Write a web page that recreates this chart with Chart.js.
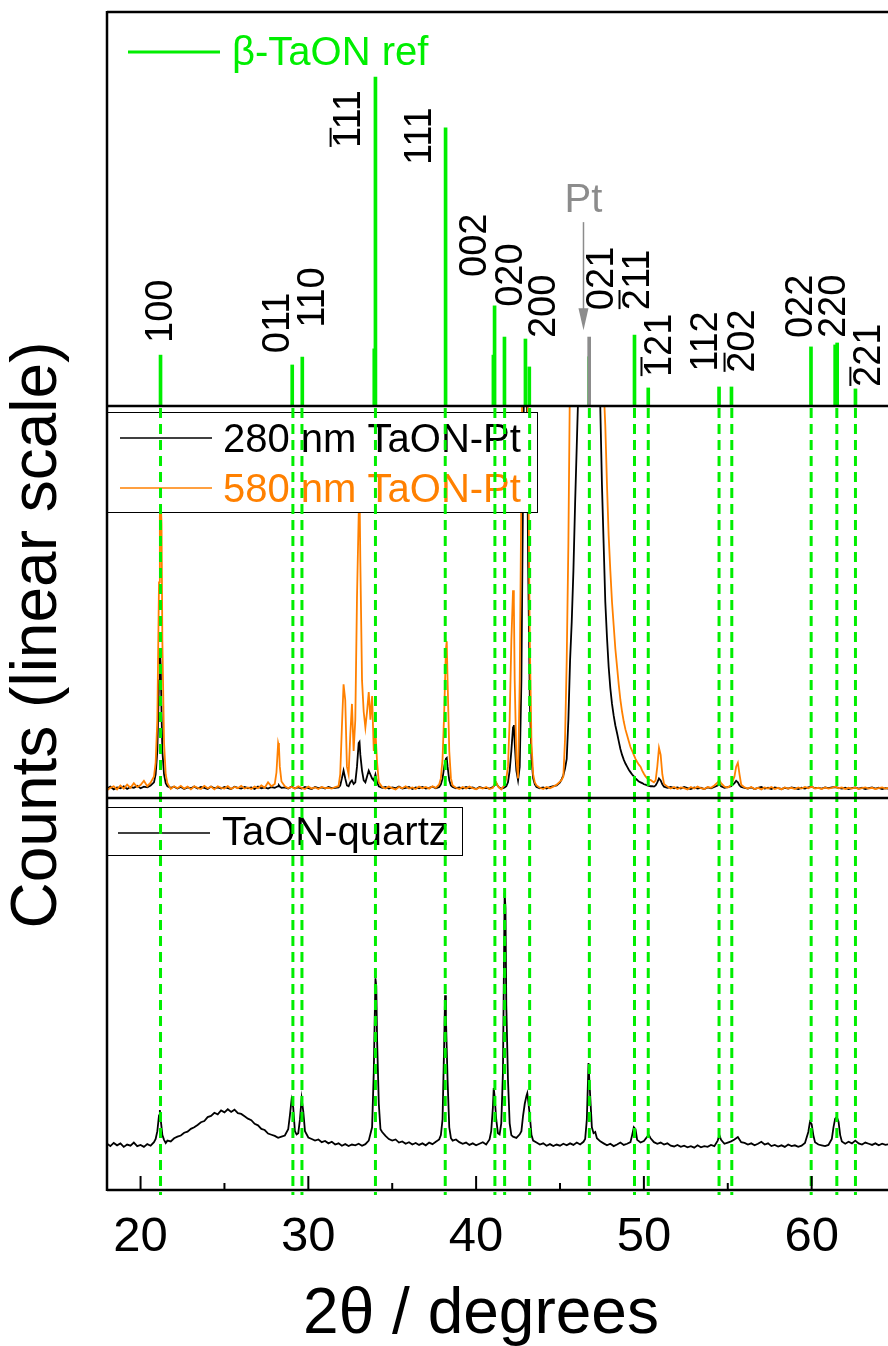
<!DOCTYPE html>
<html>
<head>
<meta charset="utf-8">
<script src="https://cdn.jsdelivr.net/npm/chart.js@4"></script>
<style>
  html, body { margin: 0; padding: 0; background: #fff; }
  canvas { display: block; }
</style>
</head>
<body>
<canvas id="xrd" width="888" height="1346"></canvas>
<script>
// beta-TaON reference pattern (2theta, relative intensity)
const refSticks = [
  [21.19, 15.5], [29.04, 12.5], [29.64, 14.9], [33.93, 17.4], [34.0, 100.2],
  [38.18, 84.7], [41.03, 15.5], [41.1, 30.5], [41.69, 21.0], [42.94, 20.4],
  [43.17, 11.9], [46.74, 15.0], [49.44, 21.6], [50.26, 5.5], [54.48, 5.8],
  [55.22, 5.8], [59.96, 18.0], [61.4, 18.6], [61.52, 19.2], [62.61, 5.2]
]
const ptStick = [[46.74, 21.0]]

// dashed guide positions (2theta)
const refAngles = [21.19, 29.08, 29.62, 34.0, 38.16, 41.12, 41.7, 43.19, 46.75, 49.44, 50.26, 54.48, 55.24, 59.97, 61.5, 62.61]

// hkl labels
const hklText = ['100', '011', '110', '111', '111', '002', '020', '200', '021', '211', '121', '112', '202', '022', '220', '221']
const hklBar = [false, false, false, true, false, false, false, false, false, true, true, false, true, false, false, true]
const hklAngle = [21.25, 28.22, 30.31, 32.46, 36.69, 39.96, 42.11, 44.08, 47.53, 49.68, 50.99, 53.73, 55.94, 59.39, 61.36, 63.44]
const hklBase = [19.2, 16.1, 23.8, 78.6, 73.4, 39.3, 30.2, 20.7, 29.2, 29.2, 8.8, 10.4, 10.1, 20.7, 20.7, 5.8]

// 280 nm TaON-Pt
const scan280 = [
  [18.0,2.4],[18.2,2.9],[18.4,2.2],[18.6,2.7],[18.8,2.5],[19.0,3.0],[19.2,2.3],[19.4,2.8],[19.6,2.6],[19.8,3.1],
  [20.0,2.5],[20.2,2.9],[20.4,2.7],[20.6,3.2],[20.8,4.0],[20.9,6.0],[21.0,12],[21.1,30],[21.15,38],[21.2,34],
  [21.25,22],[21.3,12],[21.4,6],[21.5,3.8],[21.6,3.0],[21.8,2.6],[22.0,2.9],[22.2,2.4],[22.4,2.8],[22.6,2.3],
  [22.8,2.7],[23.0,2.5],[23.2,2.9],[23.4,2.4],[23.6,2.8],[23.8,2.6],[24.0,2.3],[24.2,2.9],[24.4,2.5],[24.6,2.7],
  [24.8,2.4],[25.0,2.8],[25.2,2.5],[25.4,2.3],[25.6,2.9],[25.8,2.6],[26.0,2.4],[26.2,2.8],[26.4,2.5],[26.6,2.7],
  [26.8,2.3],[27.0,2.9],[27.2,2.5],[27.4,2.7],[27.6,2.4],[27.8,2.8],[28.0,2.6],[28.1,2.8],[28.2,3.0],[28.25,3.2],
  [28.3,2.9],[28.4,2.6],[28.6,2.7],[28.8,2.4],[29.0,2.9],[29.2,2.5],[29.4,2.7],[29.6,2.4],[29.8,2.8],[30.0,2.5],
  [30.2,2.3],[30.4,2.8],[30.6,2.5],[30.8,2.7],[31.0,2.4],[31.2,2.8],[31.4,2.5],[31.6,2.6],[31.8,2.7],[31.9,3.2],
  [32.0,5.0],[32.1,7.0],[32.2,5.0],[32.3,3.2],[32.4,3.0],[32.5,4.0],[32.6,4.5],[32.7,3.6],[32.8,4.0],[32.9,8.0],
  [33.0,14],[33.05,14.3],[33.1,11],[33.2,7],[33.3,4.5],[33.4,4.0],[33.5,5.5],[33.6,7],[33.7,6],[33.8,5],
  [33.9,4.5],[34.0,6],[34.1,4],[34.2,3.0],[34.4,2.6],[34.6,2.8],[34.8,2.4],[35.0,2.7],[35.2,2.5],[35.4,2.9],
  [35.6,2.4],[35.8,2.6],[36.0,2.8],[36.2,2.3],[36.4,2.7],[36.6,2.5],[36.8,2.8],[37.0,2.4],[37.2,2.6],[37.4,2.9],
  [37.6,2.5],[37.8,2.8],[37.9,3.5],[38.0,5],[38.1,8],[38.2,10],[38.25,10.2],[38.3,8],[38.4,4.5],[38.5,3.2],
  [38.6,2.8],[38.8,2.5],[39.0,2.7],[39.2,2.4],[39.4,2.8],[39.6,2.5],[39.8,2.7],[40.0,2.3],[40.2,2.8],[40.4,2.5],
  [40.6,2.6],[40.8,2.4],[41.0,2.8],[41.1,3.2],[41.2,3.8],[41.3,3.0],[41.4,2.6],[41.5,2.4],[41.6,2.5],[41.7,2.7],
  [41.8,3.0],[41.9,4],[42.0,7],[42.1,12],[42.2,18],[42.25,18.6],[42.3,14],[42.4,7],[42.5,4.5],[42.6,8],
  [42.7,30],[42.8,80],[42.9,130],[43.0,120],[43.1,60],[43.2,25],[43.3,10],[43.4,5],[43.5,3.5],[43.6,2.8],
  [43.8,2.5],[44.0,2.7],[44.2,2.4],[44.4,2.8],[44.6,3.0],[44.8,3.2],[45.0,4.0],[45.1,4.8],[45.2,5.8],[45.3,7.5],
  [45.4,10],[45.5,20],[45.6,35],[45.7,45],[45.8,58],[45.9,75],[46.0,90],[46.1,105],[46.3,200],[46.76,400],
  [47.2,200],[47.3,130],[47.4,100],[47.5,80],[47.6,65],[47.7,50],[47.8,41],[47.9,33.5],[48.0,28],[48.1,24],
  [48.2,21],[48.3,18.5],[48.4,16.6],[48.5,14.5],[48.6,12.5],[48.7,11],[48.8,9.8],[48.9,8.8],[49.0,8],[49.1,7.2],
  [49.2,6.6],[49.3,6.0],[49.4,5.5],[49.5,5.0],[49.6,4.6],[49.7,4.2],[49.8,4.0],[49.9,3.8],[50.0,3.5],[50.1,3.4],
  [50.2,3.2],[50.3,3.1],[50.4,3.0],[50.5,3.0],[50.6,2.9],[50.7,3.2],[50.8,4.0],[50.9,5.0],[51.0,4.5],[51.1,3.5],
  [51.2,2.9],[51.4,2.6],[51.6,2.8],[51.8,2.5],[52.0,2.7],[52.2,2.4],[52.4,2.8],[52.6,2.5],[52.8,2.3],[53.0,2.7],
  [53.2,2.4],[53.4,2.6],[53.6,2.3],[53.8,2.7],[54.0,2.5],[54.2,2.8],[54.4,3.2],[54.5,3.6],[54.6,3.0],[54.8,2.6],
  [55.0,2.8],[55.2,3.0],[55.4,3.8],[55.5,4.4],[55.6,4.0],[55.7,3.2],[55.8,2.8],[56.0,2.6],[56.2,2.4],[56.4,2.7],
  [56.6,2.3],[56.8,2.6],[57.0,2.8],[57.2,2.4],[57.4,2.6],[57.6,2.3],[57.8,2.7],[58.0,2.5],[58.2,2.3],[58.4,2.6],
  [58.6,2.4],[58.8,2.7],[59.0,2.5],[59.2,2.3],[59.4,2.6],[59.6,2.4],[59.8,2.7],[60.0,2.9],[60.2,2.5],[60.4,2.6],
  [60.6,2.4],[60.8,2.7],[61.0,2.5],[61.2,2.7],[61.4,2.8],[61.6,2.6],[61.8,2.4],[62.0,2.6],[62.2,2.3],[62.4,2.5],
  [62.6,2.7],[62.8,2.4],[63.0,2.6],[63.2,2.3],[63.4,2.5],[63.6,2.7],[63.8,2.4],[64.0,2.6],[64.2,2.3],[64.4,2.5],
  [64.6,2.4]
]

// 580 nm TaON-Pt
const scan580 = [
  [18.0,2.0],[18.2,2.6],[18.4,3.0],[18.6,2.2],[18.8,3.2],[19.0,2.4],[19.2,3.4],[19.4,2.6],[19.6,3.8],[19.8,2.8],
  [20.0,3.3],[20.2,4.4],[20.4,3.0],[20.6,3.9],[20.8,5.5],[20.9,9.0],[21.0,20],[21.1,55],[21.15,72],[21.2,76],
  [21.25,70],[21.3,40],[21.4,14],[21.5,6],[21.6,3.8],[21.8,2.3],[22.0,3.0],[22.2,2.5],[22.4,3.1],[22.6,2.4],
  [22.8,2.9],[23.0,2.2],[23.2,3.0],[23.4,2.6],[23.6,2.3],[23.8,3.1],[24.0,2.5],[24.2,2.9],[24.4,2.2],[24.6,3.0],
  [24.8,2.6],[25.0,2.4],[25.2,3.0],[25.4,2.3],[25.6,2.8],[25.8,2.5],[26.0,3.1],[26.2,2.4],[26.4,2.7],[26.6,2.3],
  [26.8,2.9],[27.0,2.5],[27.2,3.2],[27.4,2.6],[27.6,4.0],[27.8,3.0],[28.0,3.6],[28.1,6.5],[28.2,14],[28.25,13],
  [28.3,8],[28.4,4.2],[28.6,3.0],[28.8,2.5],[29.0,2.8],[29.2,2.4],[29.4,3.0],[29.6,2.6],[29.8,2.3],[30.0,2.9],
  [30.2,2.4],[30.4,2.7],[30.6,2.3],[30.8,2.8],[31.0,2.5],[31.2,2.6],[31.4,2.4],[31.6,2.8],[31.8,3.0],[31.9,6],
  [32.0,18],[32.1,29],[32.2,25],[32.3,8],[32.4,6],[32.5,16],[32.6,24],[32.7,12],[32.8,20],[32.9,51],
  [33.0,72],[33.05,80],[33.1,60],[33.2,30],[33.3,22],[33.4,18],[33.5,22],[33.6,27],[33.7,20],[33.8,26],
  [33.9,12],[34.0,17],[34.1,9],[34.2,4],[34.4,2.8],[34.6,2.4],[34.8,2.9],[35.0,2.5],[35.2,2.2],[35.4,2.8],
  [35.6,2.5],[35.8,3.0],[36.0,2.4],[36.2,2.7],[36.4,2.3],[36.6,2.9],[36.8,2.5],[37.0,2.8],[37.2,2.4],[37.4,3.0],
  [37.6,2.6],[37.8,3.5],[37.9,5],[38.0,10],[38.1,22],[38.2,38],[38.25,40],[38.3,30],[38.4,12],[38.5,5],
  [38.6,3.2],[38.8,2.6],[39.0,2.3],[39.2,2.8],[39.4,2.4],[39.6,2.9],[39.8,2.5],[40.0,2.2],[40.2,2.7],[40.4,2.4],
  [40.6,2.8],[40.8,2.3],[41.0,2.6],[41.1,3.5],[41.2,4.0],[41.3,3.0],[41.4,2.5],[41.5,2.2],[41.6,2.8],[41.7,3.4],
  [41.8,5],[41.9,8],[42.0,20],[42.1,40],[42.2,53],[42.25,50],[42.3,30],[42.4,10],[42.5,5],[42.6,30],
  [42.7,80],[42.8,130],[42.9,150],[43.0,140],[43.1,90],[43.2,40],[43.3,14],[43.4,6],[43.5,4],[43.6,3.2],
  [43.8,2.6],[44.0,2.3],[44.2,2.8],[44.4,2.5],[44.6,2.9],[44.8,3.4],[45.0,4.2],[45.1,4.6],[45.2,5.5],[45.3,15],
  [45.4,35],[45.5,65],[45.6,110],[45.7,150],[45.8,200],[45.9,250],[46.0,300],[46.1,350],[46.3,450],[46.76,600],
  [47.2,300],[47.3,180],[47.4,130],[47.5,115],[47.6,105],[47.7,95],[47.8,80],[47.9,67],[48.0,58],[48.1,50],
  [48.2,44],[48.3,38],[48.4,33.5],[48.5,29],[48.6,25],[48.7,22],[48.8,19.5],[48.9,17.5],[49.0,16],[49.1,14.5],
  [49.2,13],[49.3,12],[49.4,11],[49.5,10],[49.6,9.2],[49.7,8.5],[49.8,8],[49.9,7],[50.0,6.2],[50.1,5.5],
  [50.2,5.0],[50.3,4.6],[50.4,4.6],[50.5,4.3],[50.6,4.0],[50.7,4.5],[50.8,8],[50.9,12.8],[51.0,11],[51.1,6],
  [51.2,3.6],[51.4,2.9],[51.6,2.4],[51.8,2.8],[52.0,2.3],[52.2,2.7],[52.4,2.5],[52.6,2.2],[52.8,2.8],[53.0,2.4],
  [53.2,2.9],[53.4,2.5],[53.6,2.3],[53.8,2.8],[54.0,2.6],[54.2,3.2],[54.4,4.0],[54.5,4.6],[54.6,3.8],[54.8,2.9],
  [55.0,2.7],[55.2,3.3],[55.4,5.5],[55.5,8.0],[55.6,9.0],[55.7,6.0],[55.8,3.4],[56.0,2.7],[56.2,2.4],[56.4,2.8],
  [56.6,2.3],[56.8,2.6],[57.0,2.2],[57.2,2.7],[57.4,2.4],[57.6,2.8],[57.8,2.3],[58.0,2.6],[58.2,2.2],[58.4,2.7],
  [58.6,2.4],[58.8,2.6],[59.0,2.3],[59.2,2.7],[59.4,2.4],[59.6,2.8],[59.8,2.5],[60.0,2.9],[60.2,2.4],[60.4,2.6],
  [60.6,2.3],[60.8,2.7],[61.0,2.4],[61.2,2.6],[61.4,2.9],[61.6,2.5],[61.8,2.7],[62.0,2.3],[62.2,2.6],[62.4,2.4],
  [62.6,2.7],[62.8,2.3],[63.0,2.5],[63.2,2.7],[63.4,2.4],[63.6,2.6],[63.8,2.3],[64.0,2.5],[64.2,2.7],[64.4,2.4],
  [64.6,2.6]
]

// TaON on quartz
const scanQuartz = [
  [18.0,11.8],[18.2,11.2],[18.4,12.0],[18.6,11.4],[18.8,11.9],[19.0,11.0],[19.2,11.6],[19.4,11.3],[19.6,12.1],[19.8,11.2],
  [20.0,11.5],[20.2,11.0],[20.4,11.7],[20.6,11.3],[20.8,12.2],[20.9,13],[21.0,15],[21.1,19],[21.15,20.4],[21.2,18],
  [21.3,14],[21.4,12.8],[21.5,12.0],[21.6,12.6],[21.8,12.4],[22.0,13.2],[22.2,13.6],[22.4,13.9],[22.6,14.6],[22.8,14.9],
  [23.0,15.6],[23.2,16.0],[23.4,16.6],[23.6,17.3],[23.8,17.6],[24.0,18.6],[24.2,18.9],[24.4,19.7],[24.6,19.3],[24.8,20.3],
  [25.0,19.8],[25.2,20.6],[25.4,19.9],[25.6,20.5],[25.8,19.6],[26.0,19.4],[26.2,18.8],[26.4,18.2],[26.6,17.8],[26.8,16.9],
  [27.0,16.5],[27.2,15.6],[27.4,15.3],[27.6,14.4],[27.8,14.1],[28.0,13.8],[28.2,13.3],[28.4,13.6],[28.6,13.9],[28.8,15.5],
  [28.9,19],[29.0,23],[29.1,21],[29.2,15],[29.3,14.2],[29.4,14.5],[29.5,18],[29.6,23.3],[29.7,20],[29.8,15],
  [30.0,13.4],[30.2,13.0],[30.4,12.6],[30.6,12.9],[30.8,12.2],[31.0,12.5],[31.2,11.9],[31.4,12.3],[31.6,11.6],[31.8,11.9],
  [32.0,11.3],[32.2,11.7],[32.4,11.2],[32.6,11.6],[32.8,11.4],[33.0,11.8],[33.2,11.3],[33.4,11.7],[33.6,12.6],[33.8,16],
  [33.9,30],[34.0,54],[34.05,52],[34.1,38],[34.2,22],[34.3,15.5],[34.4,14.8],[34.6,13.8],[34.8,13.0],[35.0,12.6],
  [35.2,12.9],[35.4,12.1],[35.6,12.4],[35.8,11.8],[36.0,12.2],[36.2,11.6],[36.4,12.0],[36.6,11.5],[36.8,11.9],[37.0,11.4],
  [37.2,12.1],[37.4,11.7],[37.6,12.3],[37.8,12.9],[37.9,14],[38.0,18],[38.1,38],[38.15,49.7],[38.2,44],[38.3,28],
  [38.4,16],[38.5,13.2],[38.6,12.6],[38.8,12.9],[39.0,12.2],[39.2,11.8],[39.4,12.1],[39.6,11.5],[39.8,11.9],[40.0,11.4],
  [40.2,11.8],[40.4,12.2],[40.6,11.6],[40.8,12.9],[40.9,15],[41.0,21],[41.05,26],[41.1,24],[41.2,18],[41.3,14.5],
  [41.4,14.2],[41.5,17],[41.6,30],[41.7,75.8],[41.75,72],[41.8,47],[41.9,28],[42.0,17],[42.1,14],[42.2,13.6],
  [42.4,13.3],[42.6,14.2],[42.7,15],[42.8,19],[42.9,22],[43.0,24],[43.05,24.7],[43.1,23],[43.2,19],[43.3,14],
  [43.4,12.6],[43.6,12.1],[43.8,11.6],[44.0,11.9],[44.2,11.3],[44.4,11.7],[44.6,11.2],[44.8,11.6],[45.0,11.3],[45.2,11.8],
  [45.4,11.4],[45.6,11.9],[45.8,11.5],[46.0,12.1],[46.2,11.6],[46.4,12.3],[46.5,13],[46.6,18],[46.7,32.4],[46.75,28],
  [46.8,24],[46.9,16],[47.0,14.5],[47.1,14.8],[47.2,13.2],[47.4,12.4],[47.6,11.9],[47.8,11.4],[48.0,11.8],[48.2,11.2],
  [48.4,11.6],[48.6,12.1],[48.8,11.5],[49.0,11.8],[49.2,12.2],[49.3,14],[49.4,16],[49.5,15.5],[49.6,12.8],[49.8,12.1],
  [50.0,12.5],[50.2,13.6],[50.3,14],[50.4,13.2],[50.6,12.2],[50.8,11.8],[51.0,12.1],[51.2,11.6],[51.4,11.9],[51.6,11.3],
  [51.8,11.1],[52.0,11.5],[52.2,11.0],[52.4,11.3],[52.6,10.9],[52.8,11.2],[53.0,10.8],[53.2,11.4],[53.4,10.9],[53.6,11.2],
  [53.8,11.0],[54.0,11.5],[54.2,11.2],[54.4,12.6],[54.5,14],[54.6,12.8],[54.8,11.8],[55.0,12.1],[55.2,12.4],[55.4,12.9],
  [55.6,13.5],[55.8,12.2],[56.0,12.0],[56.2,11.6],[56.4,11.9],[56.6,11.4],[56.8,11.8],[57.0,12.3],[57.2,11.6],[57.4,11.9],
  [57.6,11.2],[57.8,11.5],[58.0,11.1],[58.2,11.4],[58.4,11.0],[58.6,11.6],[58.8,11.2],[59.0,11.4],[59.2,11.0],[59.4,11.3],
  [59.6,12.0],[59.8,14.8],[59.9,17.4],[60.0,16.8],[60.1,14],[60.2,12.2],[60.4,11.6],[60.6,11.4],[60.8,11.2],[61.0,11.5],
  [61.2,13],[61.3,16],[61.4,18.2],[61.5,18.6],[61.6,17.5],[61.7,14],[61.8,12.4],[62.0,11.8],[62.2,12.3],[62.4,11.9],
  [62.6,12.6],[62.8,11.9],[63.0,11.6],[63.2,12.1],[63.4,11.8],[63.6,11.5],[63.8,11.9],[64.0,11.4],[64.2,11.8],[64.4,11.5],
  [64.6,11.7]
]

const xTickLabels = [20, 30, 40, 50, 60]

const FONT = '"Liberation Sans", Arial, sans-serif'
const GREEN = '#00ee00'
const ORANGE = '#ff8000'
const GREY = '#8c8c8c'

// bars need {x, y} objects, arrays would be read as floating bars
const toPoints = rows => rows.map(([x, y]) => ({ x, y }))

// keep each dataset inside its own panel
const panelClip = {
  id: 'panelClip',
  beforeDatasetDraw(chart, args) {
    const ys = chart.scales[args.meta.yAxisID]
    const ctx = chart.ctx
    ctx.save()
    ctx.beginPath()
    ctx.rect(chart.chartArea.left, ys.top, chart.chartArea.width, ys.bottom - ys.top)
    ctx.clip()
  },
  afterDatasetDraw(chart) {
    chart.ctx.restore()
  }
}

const decorations = {
  id: 'decorations',
  afterDatasetsDraw(chart) {
    const ctx = chart.ctx
    const area = chart.chartArea
    const x = chart.scales.x
    const yTop = chart.scales.yTop
    const yMid = chart.scales.yMid
    const yBot = chart.scales.yBot
    ctx.save()

    // legend boxes
    ctx.fillStyle = '#fff'
    ctx.strokeStyle = '#000'
    ctx.lineWidth = 1
    ctx.fillRect(area.left, yMid.top + 6, 430, 100)
    ctx.strokeRect(area.left + 0.5, yMid.top + 6.5, 430, 100)
    ctx.fillRect(area.left, yBot.top + 9, 355, 48)
    ctx.strokeRect(area.left + 0.5, yBot.top + 9.5, 355, 48)

    ctx.font = '40px ' + FONT
    ctx.textAlign = 'left'
    ctx.textBaseline = 'alphabetic'
    const legendLine = (x0, y0, color, w) => {
      ctx.strokeStyle = color
      ctx.lineWidth = w
      ctx.beginPath()
      ctx.moveTo(x0, y0)
      ctx.lineTo(x0 + 92, y0)
      ctx.stroke()
    }
    legendLine(area.left + 13, yMid.top + 32, '#000', 1.5)
    ctx.fillStyle = '#000'
    ctx.fillText('280 nm TaON-Pt', area.left + 116, yMid.top + 46)
    legendLine(area.left + 13, yMid.top + 82, ORANGE, 1.5)
    ctx.fillStyle = ORANGE
    ctx.fillText('580 nm TaON-Pt', area.left + 116, yMid.top + 96)
    legendLine(area.left + 11, yBot.top + 35, '#000', 1.5)
    ctx.fillStyle = '#000'
    ctx.fillText('TaON-quartz', area.left + 115, yBot.top + 47)
    legendLine(area.left + 21, yTop.top + 40, GREEN, 3)
    ctx.fillStyle = GREEN
    ctx.fillText('\u03b2-TaON ref', area.left + 125, yTop.top + 53)

    // dashed guides through the two lower panels
    ctx.strokeStyle = GREEN
    ctx.lineWidth = 3
    ctx.setLineDash([10, 6])
    refAngles.forEach(a => {
      const px = x.getPixelForValue(a)
      ctx.beginPath()
      ctx.moveTo(px, yMid.top + 2)
      ctx.lineTo(px, area.bottom + 5)
      ctx.stroke()
    })
    ctx.setLineDash([])

    // frames
    ctx.strokeStyle = '#000'
    ctx.lineWidth = 2.5
    ;[yTop.top, yTop.bottom, yMid.bottom, yBot.bottom].forEach(py => {
      ctx.beginPath()
      ctx.moveTo(area.left, py)
      ctx.lineTo(area.right, py)
      ctx.stroke()
    })
    ctx.beginPath()
    ctx.moveTo(area.left, yTop.top - 1)
    ctx.lineTo(area.left, yBot.bottom + 1)
    ctx.stroke()

    // inward ticks on the bottom axis
    ctx.lineWidth = 2
    for (let v = 20; v <= 60; v += 5) {
      const px = x.getPixelForValue(v)
      ctx.beginPath()
      ctx.moveTo(px, area.bottom)
      ctx.lineTo(px, area.bottom - (v % 10 === 0 ? 14 : 7))
      ctx.stroke()
    }

    // hkl labels, rotated
    ctx.fillStyle = '#000'
    ctx.strokeStyle = '#000'
    ctx.font = '38px ' + FONT
    ctx.textBaseline = 'middle'
    ctx.textAlign = 'left'
    hklText.forEach((t, i) => {
      const px = x.getPixelForValue(hklAngle[i])
      const py = yTop.getPixelForValue(hklBase[i])
      ctx.save()
      ctx.translate(px, py)
      ctx.rotate(-Math.PI / 2)
      ctx.fillText(t, 0, 0)
      if (hklBar[i]) {
        const w = ctx.measureText(t[0]).width
        ctx.lineWidth = 2
        ctx.beginPath()
        ctx.moveTo(1, -19)
        ctx.lineTo(w - 1, -19)
        ctx.stroke()
      }
      ctx.restore()
    })

    // Pt marker
    const ax = x.getPixelForValue(46.4)
    ctx.fillStyle = GREY
    ctx.strokeStyle = GREY
    ctx.font = '40px ' + FONT
    ctx.textAlign = 'center'
    ctx.textBaseline = 'alphabetic'
    ctx.fillText('Pt', ax, yTop.getPixelForValue(59.1))
    const tipY = yTop.getPixelForValue(23.1)
    ctx.lineWidth = 1.5
    ctx.beginPath()
    ctx.moveTo(ax, yTop.getPixelForValue(56))
    ctx.lineTo(ax, tipY - 12)
    ctx.stroke()
    ctx.beginPath()
    ctx.moveTo(ax - 5, tipY - 22)
    ctx.lineTo(ax + 5, tipY - 22)
    ctx.lineTo(ax, tipY)
    ctx.closePath()
    ctx.fill()

    // axis titles
    ctx.fillStyle = '#000'
    ctx.font = '64px ' + FONT
    ctx.textAlign = 'center'
    ctx.textBaseline = 'alphabetic'
    ctx.fillText('2\u03b8 / degrees', area.left + 374, area.bottom + 143)
    ctx.save()
    ctx.translate(38, 635)
    ctx.rotate(-Math.PI / 2)
    ctx.textBaseline = 'middle'
    ctx.fillText('Counts (linear scale)', 0, 0)
    ctx.restore()

    ctx.restore()
  }
}

new Chart(document.getElementById('xrd'), {
  type: 'line',
  data: {
    datasets: [
      { type: 'bar', data: toPoints(ptStick), yAxisID: 'yTop', backgroundColor: GREY, barThickness: 3, grouped: false, order: 0 },
      { type: 'bar', data: toPoints(refSticks), yAxisID: 'yTop', backgroundColor: GREEN, barThickness: 3, grouped: false, order: 1 },
      { label: '580 nm TaON-Pt', data: scan580, yAxisID: 'yMid', borderColor: ORANGE, borderWidth: 1.8, pointRadius: 0, order: 2 },
      { label: '280 nm TaON-Pt', data: scan280, yAxisID: 'yMid', borderColor: '#000', borderWidth: 1.8, pointRadius: 0, order: 3 },
      { label: 'TaON-quartz', data: scanQuartz, yAxisID: 'yBot', borderColor: '#000', borderWidth: 1.8, pointRadius: 0, order: 4 }
    ]
  },
  options: {
    responsive: false,
    animation: false,
    devicePixelRatio: 1,
    layout: { padding: { left: 107, top: 12, right: 0, bottom: 0 } },
    plugins: { legend: { display: false }, tooltip: { enabled: false } },
    scales: {
      x: {
        type: 'linear',
        min: 18,
        max: 64.55,
        offset: false,
        grid: { display: false },
        border: { display: false },
        afterFit: scale => { scale.height = 156 },
        afterBuildTicks: scale => { scale.ticks = xTickLabels.map(v => ({ value: v })) },
        ticks: {
          autoSkip: false,
          maxRotation: 0,
          padding: 10,
          color: '#000',
          font: { family: FONT, size: 49 }
        }
      },
      // stacked panels are placed in reverse order: last one ends up on top
      yBot: { type: 'linear', display: false, min: 0, max: 100, stack: 'panels', stackWeight: 392 },
      yMid: { type: 'linear', display: false, min: 0, max: 100, stack: 'panels', stackWeight: 392 },
      yTop: { type: 'linear', display: false, min: 0, max: 120, stack: 'panels', stackWeight: 394 }
    }
  },
  plugins: [panelClip, decorations]
})
</script>
</body>
</html>
